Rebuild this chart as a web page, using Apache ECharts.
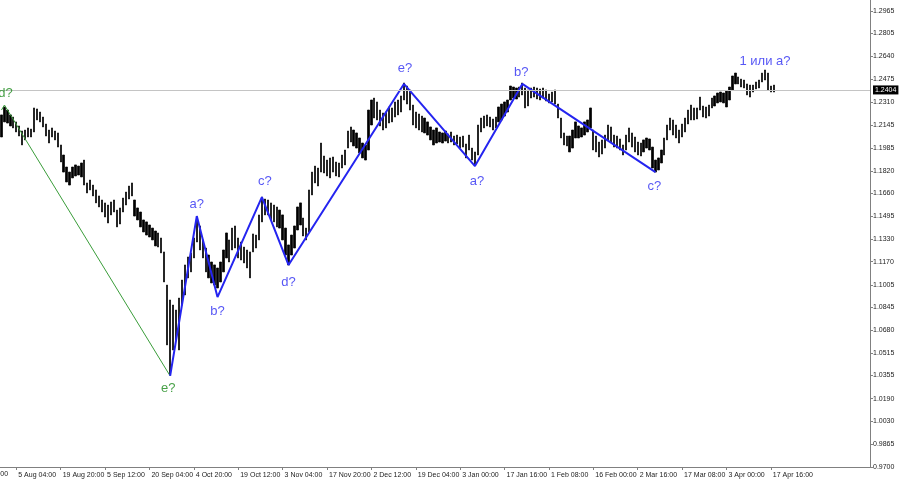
<!DOCTYPE html>
<html><head><meta charset="utf-8">
<script src="https://cdn.jsdelivr.net/npm/echarts@6/dist/echarts.min.js"></script>
<style>html,body{margin:0;padding:0;background:#fff}#c{width:900px;height:485px}</style>
</head><body><div id="c"></div>
<script>
// ---- data ----
const barHigh = [
1.2221,1.2278,1.2256,1.2221,1.2206,1.2171,1.2142,1.2106,1.2113,1.2128,
1.2120,1.2271,1.2264,1.2242,1.2206,1.2156,1.2113,1.2128,1.2106,1.2092,
1.2006,1.1934,1.1848,1.1812,1.1848,1.1863,1.1855,1.1877,1.1898,1.1734,
1.1755,1.1719,1.1684,1.1641,1.1612,1.1591,1.1576,1.1598,1.1612,1.1540,
1.1555,1.1626,1.1669,1.1712,1.1734,1.1612,1.1555,1.1526,1.1469,1.1455,
1.1433,1.1411,1.1390,1.1376,1.1340,1.1240,1.1003,1.0896,1.0860,1.0824,
1.0910,1.1039,1.1147,1.1204,1.1233,1.1340,1.1490,1.1426,1.1326,1.1268,
1.1218,1.1168,1.1147,1.1125,1.1168,1.1254,1.1376,1.1326,1.1411,1.1426,
1.1340,1.1311,1.1275,1.1254,1.1240,1.1369,1.1361,1.1505,1.1633,1.1619,
1.1612,1.1591,1.1576,1.1562,1.1540,1.1505,1.1411,1.1290,1.1361,1.1426,
1.1562,1.1591,1.1483,1.1411,1.1684,1.1812,1.1855,1.1841,1.2020,1.1927,
1.1898,1.1913,1.1920,1.1884,1.1877,1.1934,1.1970,1.2106,1.2135,1.2113,
1.2092,1.2056,1.2020,1.2006,1.2256,1.2328,1.2342,1.2314,1.2256,1.2235,
1.2242,1.2278,1.2271,1.2314,1.2328,1.2357,1.2450,1.2428,1.2400,1.2292,
1.2242,1.2228,1.2213,1.2199,1.2171,1.2135,1.2113,1.2128,1.2099,1.2092,
1.2106,1.2085,1.2099,1.2070,1.2077,1.2063,1.2070,1.2013,1.2077,1.1984,
1.1956,1.2149,1.2199,1.2213,1.2221,1.2206,1.2192,1.2206,1.2278,1.2299,
1.2314,1.2328,1.2428,1.2421,1.2414,1.2421,1.2450,1.2414,1.2400,1.2414,
1.2421,1.2414,1.2407,1.2414,1.2400,1.2371,1.2385,1.2400,1.2299,1.2199,
1.2092,1.2070,1.2070,1.2113,1.2171,1.2142,1.2128,1.2171,1.2185,1.2271,
1.2113,1.2070,1.2027,1.2042,1.2077,1.2149,1.2135,1.2077,1.2070,1.2049,
1.2006,1.2077,1.2128,1.2092,1.2063,1.2027,1.2020,1.2042,1.2056,1.2049,
1.1991,1.1898,1.1913,1.1970,1.2056,1.2149,1.2199,1.2185,1.2149,1.2113,
1.2156,1.2199,1.2256,1.2292,1.2271,1.2271,1.2349,1.2285,1.2278,1.2292,
1.2342,1.2357,1.2378,1.2385,1.2378,1.2392,1.2421,1.2500,1.2521,1.2493,
1.2478,1.2471,1.2443,1.2435,1.2435,1.2457,1.2471,1.2521,1.2543,1.2521,
1.2428,1.2435];
const barLow = [
1.2063,1.2171,1.2163,1.2142,1.2128,1.2099,1.2070,1.2006,1.2042,1.2063,
1.2063,1.2099,1.2185,1.2171,1.2135,1.2070,1.2020,1.2063,1.2042,1.1991,
1.1884,1.1812,1.1741,1.1719,1.1770,1.1784,1.1791,1.1777,1.1719,1.1662,
1.1684,1.1641,1.1591,1.1562,1.1526,1.1490,1.1447,1.1505,1.1526,1.1419,
1.1440,1.1526,1.1576,1.1619,1.1641,1.1497,1.1469,1.1419,1.1383,1.1361,
1.1347,1.1326,1.1283,1.1275,1.1233,1.1025,1.0574,1.0359,1.0538,1.0610,
1.0538,1.0860,1.0932,1.1054,1.1097,1.1197,1.1311,1.1254,1.1197,1.1097,
1.1054,1.1018,1.1003,1.0982,1.1025,1.1097,1.1197,1.1168,1.1254,1.1268,
1.1197,1.1182,1.1161,1.1125,1.1054,1.1240,1.1268,1.1326,1.1455,1.1505,
1.1505,1.1469,1.1455,1.1419,1.1411,1.1326,1.1218,1.1147,1.1218,1.1268,
1.1397,1.1433,1.1354,1.1326,1.1383,1.1648,1.1734,1.1712,1.1812,1.1805,
1.1784,1.1770,1.1812,1.1784,1.1777,1.1841,1.1863,1.1984,1.2027,1.1999,
1.1984,1.1949,1.1913,1.1898,1.1970,1.2149,1.2199,1.2185,1.2142,1.2113,
1.2128,1.2163,1.2171,1.2206,1.2221,1.2242,1.2328,1.2299,1.2256,1.2149,
1.2128,1.2113,1.2099,1.2092,1.2077,1.2042,1.2006,1.2020,1.2027,1.2020,
1.2034,1.2020,1.2027,1.2006,1.2013,1.1984,1.1991,1.1913,1.1970,1.1898,
1.1863,1.1934,1.2099,1.2128,1.2142,1.2135,1.2113,1.2128,1.2171,1.2185,
1.2213,1.2242,1.2328,1.2342,1.2335,1.2349,1.2364,1.2271,1.2285,1.2342,
1.2349,1.2335,1.2328,1.2342,1.2321,1.2307,1.2314,1.2299,1.2199,1.2056,
1.2006,1.1999,1.1956,1.1984,1.2056,1.2056,1.2063,1.2077,1.2099,1.2128,
1.1970,1.1956,1.1920,1.1941,1.1984,1.2042,1.2027,1.1991,1.1984,1.1970,
1.1934,1.1970,1.2027,1.1991,1.1956,1.1934,1.1927,1.1956,1.1984,1.1970,
1.1841,1.1812,1.1827,1.1877,1.1934,1.2042,1.2113,1.2077,1.2056,1.2020,
1.2063,1.2099,1.2156,1.2185,1.2185,1.2192,1.2256,1.2206,1.2199,1.2213,
1.2271,1.2285,1.2307,1.2314,1.2307,1.2278,1.2328,1.2400,1.2443,1.2443,
1.2421,1.2414,1.2364,1.2349,1.2385,1.2407,1.2414,1.2457,1.2471,1.2400,
1.2385,1.2385];
const timeLabels = ['5 Aug 04:00','19 Aug 20:00','5 Sep 12:00','20 Sep 04:00','4 Oct 20:00','19 Oct 12:00','3 Nov 04:00','17 Nov 20:00','2 Dec 12:00','19 Dec 04:00','3 Jan 00:00','17 Jan 16:00','1 Feb 08:00','16 Feb 00:00','2 Mar 16:00','17 Mar 08:00','3 Apr 00:00','17 Apr 16:00'];
const clippedTimeLabel = '21 Jul 12:00';
const timeLabelStart = 5;
const timeLabelStep = 15;
const categoryCount = 294;
const priceTicks = ['0.9700','0.9865','1.0030','1.0190','1.0355','1.0515','1.0680','1.0845','1.1005','1.1170','1.1330','1.1495','1.1660','1.1820','1.1985','1.2145','1.2310','1.2475','1.2640','1.2805','1.2965'];
const priceMin = 0.9700;
const priceMax = 1.3044;
const currentPrice = 1.2404;
const greenWaveIdx = [0, 1, 57];
const greenWaveVal = [1.2256, 1.2292, 1.0352];
const greenWaveText = ['', 'd?', 'e?'];
const blueWaveIdx = [57, 66, 73, 88, 97, 136, 160, 176, 221];
const blueWaveVal = [1.0352, 1.1497, 1.0917, 1.1633, 1.1147, 1.2443, 1.1855, 1.2443, 1.1812];
const blueWaveText = ['', 'a?', 'b?', 'c?', 'd?', 'e?', 'a?', 'b?', 'c?'];
const topLabelText = '1 или a?';
const topLabelIdx = 258;

// ---- styling / building ----
const greenOffsets = [null, [1, -12], [-2, 12]];
const blueOffsets = [null, [0, -12], [0, 14], [3, -16], [0, 17], [1, -16], [2, 15], [-1, -12], [-1, 14]];
const FONT = 'Liberation Sans, Arial, sans-serif';
const BLUE = '#2424f0';
const BLUE_TXT = '#2c2cf2';
const GREEN = '#3a9d3a';
const GREEN_TXT = '#1a8a1a';

const cats = new Array(categoryCount).fill('');
timeLabels.forEach((t, j) => { cats[timeLabelStart + j * timeLabelStep] = t; });
const tickVals = priceTicks.map(Number);
const candles = barHigh.map((h, i) => [barLow[i], h, barLow[i], h]);

function labelItems(idx, val, txt, offs) {
  const out = [];
  idx.forEach((x, k) => {
    if (!txt[k]) return;
    out.push({ value: [x, val[k]], name: txt[k], label: { offset: offs[k] } });
  });
  return out;
}

const chart = echarts.init(document.getElementById('c'), null, { renderer: 'canvas' });
chart.setOption({
  animation: false,
  backgroundColor: '#ffffff',
  grid: { left: 0, right: 30, top: 0, bottom: 18, containLabel: false },
  xAxis: {
    type: 'category', data: cats, boundaryGap: true,
    axisLine: { show: true, lineStyle: { color: '#808080', width: 1 } },
    axisTick: { show: true, alignWithLabel: true, length: 3, interval: (i, v) => v !== '', lineStyle: { color: '#808080' } },
    axisLabel: { interval: (i, v) => v !== '', align: 'left', margin: 5, padding: [0, 0, 0, 2], fontSize: 7, fontFamily: FONT, color: '#222' },
    splitLine: { show: false }
  },
  yAxis: {
    type: 'value', position: 'right', min: priceMin, max: priceMax, scale: true,
    axisLine: { show: true, lineStyle: { color: '#808080', width: 1 } },
    axisTick: { show: true, length: 3, inside: false, customValues: tickVals, lineStyle: { color: '#808080' } },
    axisLabel: {
      customValues: tickVals, margin: 3, fontSize: 7, fontFamily: FONT, color: '#222',
      formatter: v => { let best = ''; let bd = 1; priceTicks.forEach(s => { const d = Math.abs(Number(s) - v); if (d < bd) { bd = d; best = s; } }); return bd < 0.002 ? best : ''; }
    },
    splitLine: { show: false }
  },
  graphic: [{
    type: 'text', left: -30, top: 471, silent: true,
    style: { text: clippedTimeLabel, font: '7px ' + FONT, fill: '#222', x: 0, y: 0 }
  }],
  series: [
    {
      type: 'candlestick', data: candles, barWidth: 1.8, clip: true,
      itemStyle: { color: '#000', color0: '#000', borderColor: '#000', borderColor0: '#000', borderWidth: 0.7 },
      markLine: {
        silent: true, symbol: 'none', animation: false,
        data: [{ yAxis: currentPrice }],
        lineStyle: { color: '#c4c4c4', width: 1, type: 'solid' },
        label: { show: true, position: 'end', distance: 3, formatter: currentPrice.toFixed(4), backgroundColor: '#000', color: '#fff', fontSize: 7, fontFamily: FONT, padding: [1, 2, 1, 2] }
      },
      z: 2
    },
    {
      type: 'line', data: greenWaveIdx.map((x, k) => [x, greenWaveVal[k]]), symbol: 'none',
      lineStyle: { color: GREEN, width: 1 }, z: 3, silent: true
    },
    {
      type: 'line', data: blueWaveIdx.map((x, k) => [x, blueWaveVal[k]]), symbol: 'none',
      lineStyle: { color: BLUE, width: 2 }, z: 4, silent: true
    },
    {
      type: 'scatter', symbolSize: 0, silent: true, z: 5,
      data: labelItems(greenWaveIdx, greenWaveVal, greenWaveText, greenOffsets),
      label: { show: true, position: 'inside', formatter: p => p.name, color: GREEN_TXT, fontSize: 13, fontFamily: FONT }
    },
    {
      type: 'scatter', symbolSize: 0, silent: true, z: 5,
      data: labelItems(blueWaveIdx, blueWaveVal, blueWaveText, blueOffsets)
        .concat([{ value: [topLabelIdx, barHigh[topLabelIdx]], name: topLabelText, label: { offset: [0, -9] } }]),
      label: { show: true, position: 'inside', formatter: p => p.name, color: BLUE_TXT, fontSize: 13, fontFamily: FONT }
    }
  ]
});
</script></body></html>
